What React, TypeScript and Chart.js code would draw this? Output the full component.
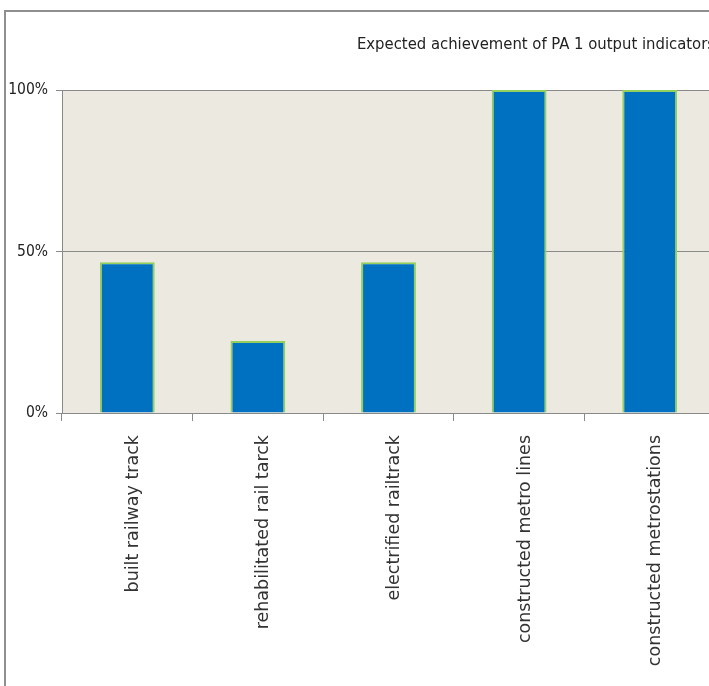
import React, { useEffect, useRef } from "react";
import { Chart, registerables } from "chart.js";

Chart.register(...registerables);

const categories = [
  "built railway track",
  "rehabilitated rail tarck",
  "electrified railtrack",
  "constructed metro lines",
  "constructed metrostations",
];
const achievement = [0.467, 0.223, 0.467, 1.0, 1.0];
const yTicks = [0, 0.5, 1];
const titleText = "Expected achievement of PA 1 output indicators";

const narrow = "'Liberation Sans Narrow', 'Arial Narrow', 'DejaVu Sans Condensed', sans-serif";

const plotBg = {
  id: "plotBg",
  beforeDraw(chart: any) {
    const { ctx, chartArea } = chart;
    ctx.save();
    ctx.fillStyle = "#ECE9E0";
    ctx.fillRect(chartArea.left, chartArea.top, chartArea.right - chartArea.left, chartArea.bottom - chartArea.top);
    ctx.restore();
  },
};

export default function App() {
  const ref = useRef<HTMLCanvasElement>(null);
  useEffect(() => {
    if (!ref.current) return;
    const chart = new Chart(ref.current, {
      type: "bar",
      data: {
        labels: categories,
        datasets: [
          {
            data: achievement,
            backgroundColor: "#0070C0",
            borderColor: "#92CF5C",
            borderWidth: 2,
            barPercentage: 0.42,
            categoryPercentage: 1,
          },
        ],
      },
      plugins: [plotBg],
      options: {
        responsive: false,
        animation: false,
        layout: { padding: 0 },
        plugins: {
          legend: { display: false },
          tooltip: { enabled: false },
          title: {
            display: true,
            text: titleText,
            align: "end",
            color: "#222222",
            font: { family: narrow, size: 16.5, weight: "normal", lineHeight: 1.2 },
            padding: { top: 23, bottom: 35.2 },
          },
        },
        scales: {
          x: {
            grid: {
              display: true,
              drawOnChartArea: false,
              drawTicks: true,
              tickLength: 8,
              offset: true,
              color: "#8a8a8a",
            },
            border: { display: true, color: "#8a8a8a", width: 1 },
            ticks: {
              minRotation: 90,
              maxRotation: 90,
              autoSkip: false,
              padding: 14,
              labelOffset: 6,
              color: "#333333",
              font: { family: "'DejaVu Sans', sans-serif", size: 17.5 },
            },
            afterFit(scale: any) {
              scale.height = 289;
            },
          },
          y: {
            min: 0,
            max: 1,
            afterBuildTicks(scale: any) {
              scale.ticks = yTicks.map((v) => ({ value: v }));
            },
            grid: {
              color: "#8a8a8a",
              drawTicks: true,
              tickLength: 6,
            },
            border: { display: true, color: "#8a8a8a", width: 1 },
            ticks: {
              padding: 8,
              color: "#222222",
              font: { family: narrow, size: 15.5 },
              callback: (v: any) => Math.round(Number(v) * 100) + "%",
            },
            afterFit(scale: any) {
              scale.width = 56;
            },
          },
        },
      },
    });
    return () => chart.destroy();
  }, []);
  return (
    <div
      style={{
        position: "fixed",
        left: 4,
        top: 10,
        width: 800,
        height: 800,
        borderLeft: "2px solid #8f8f8f",
        borderTop: "2px solid #8f8f8f",
        background: "#fff",
        overflow: "hidden",
      }}
    >
      <canvas ref={ref} width={709} height={690} style={{ display: "block", width: 709, height: 690 }} />
    </div>
  );
}
